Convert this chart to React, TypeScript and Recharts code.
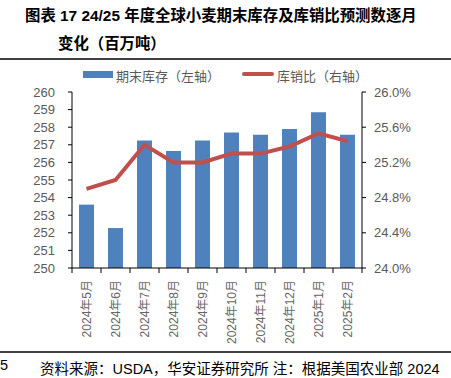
import React from 'react';
import { ComposedChart, Bar, Line, XAxis, YAxis } from 'recharts';

const months = [
  '2024年5月', '2024年6月', '2024年7月', '2024年8月', '2024年9月',
  '2024年10月', '2024年11月', '2024年12月', '2025年1月', '2025年2月',
];
// 期末库存（百万吨）
const stocks = [253.6, 252.27, 257.25, 256.65, 257.25, 257.7, 257.57, 257.9, 258.85, 257.57];
// 库销比（%）
const ratio = [24.9, 25.0, 25.4, 25.2, 25.2, 25.3, 25.3, 25.38, 25.53, 25.44];
const leftTicks = [250, 251, 252, 253, 254, 255, 256, 257, 258, 259, 260];
const rightTicks = [24.0, 24.4, 24.8, 25.2, 25.6, 26.0];

const data = months.map((m, i) => ({ month: m, stock: stocks[i], ratio: ratio[i] }));

const FONT = '"Liberation Sans", Arial, "Noto Sans CJK SC", sans-serif';
const GREY = '#595959';

// category ticks sit on the band edges, labels are vertical
const MonthTick = (props: any) => {
  const { x, y, payload, index, visibleTicksCount } = props;
  const half = 14.5;
  return (
    <g>
      <line x1={x - half} x2={x - half} y1={y - 5} y2={y} stroke="#000" />
      {index === visibleTicksCount - 1 && (
        <line x1={x + half} x2={x + half} y1={y - 5} y2={y} stroke="#000" />
      )}
      <text
        transform={`translate(${x},${y + 7}) rotate(-90)`}
        textAnchor="end"
        dominantBaseline="central"
        fontSize={12}
        fill="#666"
        fontFamily={FONT}
      >
        {payload.value}
      </text>
    </g>
  );
};

export default function App() {
  return (
    <div style={{ position: 'absolute', left: 0, top: 0, width: 451, height: 378, background: '#fff', overflow: 'hidden', fontFamily: FONT }}>
      <div style={{ position: 'absolute', left: 25, top: 3, fontSize: 15.4, fontWeight: 'bold', color: '#000', whiteSpace: 'nowrap' }}>
        图表 17 24/25 年度全球小麦期末库存及库销比预测数逐月
      </div>
      <div style={{ position: 'absolute', left: 58, top: 31, fontSize: 15.4, fontWeight: 'bold', color: '#000', whiteSpace: 'nowrap' }}>
        变化（百万吨）
      </div>
      <div style={{ position: 'absolute', left: 0, top: 58, width: 451, height: 2, background: '#404040' }} />

      {/* legend */}
      <div style={{ position: 'absolute', left: 83, top: 71, width: 30, height: 7, background: '#4F81BD' }} />
      <div style={{ position: 'absolute', left: 116, top: 66, fontSize: 13, color: GREY, whiteSpace: 'nowrap' }}>期末库存（左轴）</div>
      <div style={{ position: 'absolute', left: 242, top: 72, width: 32, height: 4, background: '#C0504D', borderRadius: 2 }} />
      <div style={{ position: 'absolute', left: 277, top: 66, fontSize: 13, color: GREY, whiteSpace: 'nowrap' }}>库销比（右轴）</div>

      <div style={{ position: 'absolute', left: 0, top: 0 }}>
        <ComposedChart width={451} height={378} data={data} margin={{ top: 92, right: 0, bottom: 0, left: 0 }} style={{ fontFamily: FONT }}>
          <XAxis
            dataKey="month"
            height={110}
            tickSize={5}
            tickMargin={0}
            tickLine={false}
            axisLine={{ stroke: '#000' }}
            interval={0}
            tick={<MonthTick />}
          />
          <YAxis
            yAxisId="left"
            width={72}
            domain={[250, 260]}
            ticks={leftTicks}
            interval={0}
            tickSize={4}
            tickMargin={13}
            axisLine={{ stroke: '#000' }}
            tickLine={{ stroke: '#000' }}
            tick={{ fontSize: 13, fill: GREY }}
          />
          <YAxis
            yAxisId="right"
            orientation="right"
            width={89}
            domain={[24, 26]}
            ticks={rightTicks}
            interval={0}
            tickSize={4}
            tickMargin={8}
            axisLine={{ stroke: '#000' }}
            tickLine={{ stroke: '#000' }}
            tick={{ fontSize: 13, fill: GREY }}
            tickFormatter={(v: number) => v.toFixed(1) + '%'}
          />
          <Bar yAxisId="left" dataKey="stock" fill="#4F81BD" barSize={15} isAnimationActive={false} />
          <Line
            yAxisId="right"
            dataKey="ratio"
            type="linear"
            stroke="#C0504D"
            strokeWidth={4}
            dot={false}
            isAnimationActive={false}
          />
        </ComposedChart>
      </div>

      <div style={{ position: 'absolute', left: 0, top: 351, width: 451, height: 2, background: '#404040' }} />
      <div style={{ position: 'absolute', left: 0, top: 357, fontSize: 14.5, color: '#000', whiteSpace: 'nowrap' }}>5</div>
      <div style={{ position: 'absolute', left: 40, top: 357, fontSize: 14.5, color: '#000', whiteSpace: 'nowrap' }}>
        资料来源：USDA，华安证券研究所 注：根据美国农业部 2024
      </div>
    </div>
  );
}
